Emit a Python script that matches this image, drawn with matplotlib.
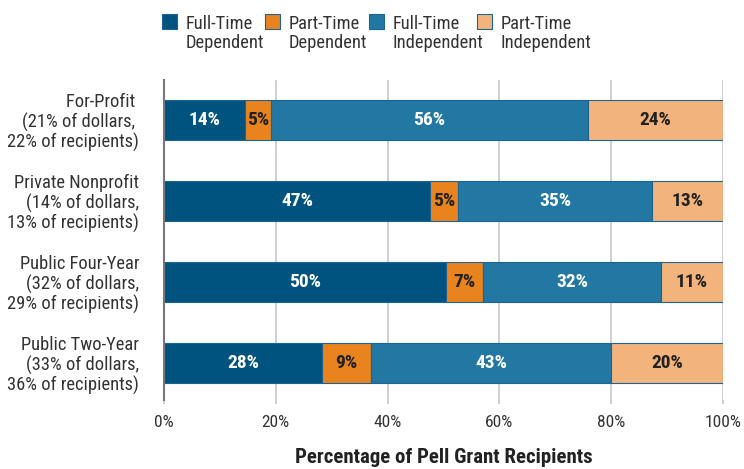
import matplotlib
matplotlib.use('Agg')
import matplotlib.pyplot as plt
from matplotlib import font_manager as fm
from matplotlib.patches import Rectangle
import numpy as np

# pick a condensed face if one is available
fonts = [(f.name, f.stretch) for f in fm.fontManager.ttflist]
names = {n for n, s in fonts}
stretch = 'normal'
if 'Roboto Condensed' in names:
    fam = 'Roboto Condensed'
elif 'Liberation Sans Narrow' in names:
    fam = 'Liberation Sans Narrow'
elif ('DejaVu Sans', 'condensed') in fonts:
    fam, stretch = 'DejaVu Sans', 'condensed'
else:
    fam = 'DejaVu Sans'
plt.rcParams['font.family'] = [fam, 'DejaVu Sans']
plt.rcParams['font.stretch'] = stretch

categories = ['For-Profit \n(21% of dollars, \n22% of recipients)',
              'Private Nonprofit\n(14% of dollars,\n13% of recipients)',
              'Public Four-Year\n(32% of dollars,\n29% of recipients)',
              'Public Two-Year\n(33% of dollars,\n36% of recipients)']
series = ['Full-Time\nDependent', 'Part-Time\nDependent', 'Full-Time\nIndependent', 'Part-Time\nIndependent']

ft_dep = [14.5, 47.6, 50.4, 28.3]
pt_dep = [4.6, 5.0, 6.7, 8.7]
ft_ind = [56.7, 34.7, 31.8, 43.0]
pt_ind = [24.2, 12.7, 11.1, 20.0]
ft_dep_lbl = [14, 47, 50, 28]
pt_dep_lbl = [5, 5, 7, 9]
ft_ind_lbl = [56, 35, 32, 43]
pt_ind_lbl = [24, 13, 11, 20]

colors = ['#00537f', '#e8831e', '#2277a3', '#f2b47c']
text_colors = ['white', '#222222', 'white', '#222222']

fig = plt.figure(figsize=(7.44, 4.69), dpi=100)
ax = fig.add_axes([164/744, 1-400/469, (723-164)/744, 320/469])

y = np.arange(len(categories))
left = np.zeros(len(categories))
for vals, lbls, c, tc in zip([ft_dep, pt_dep, ft_ind, pt_ind],
                             [ft_dep_lbl, pt_dep_lbl, ft_ind_lbl, pt_ind_lbl],
                             colors, text_colors):
    bars = ax.barh(y, vals, left=left, height=0.49, color=c,
                   edgecolor='#1d6493', linewidth=0.8, zorder=3)
    ax.bar_label(bars, labels=[f'{v}%' for v in lbls], label_type='center',
                 color=tc, fontsize=14, fontweight='bold')
    left += np.array(vals)

ax.set_xlim(0, 100)
ax.set_ylim(3.46, -0.49)
ax.set_yticks(y)
ax.set_yticklabels(categories, fontsize=13.3, color='#333333', ha='right',
                   linespacing=1.1)
ax.tick_params(axis='y', length=0, pad=18)
ax.set_xticks(np.arange(0, 101, 20))
ax.set_xticklabels([f'{v}%' for v in range(0, 101, 20)], fontsize=12.5, color='#333333')
ax.tick_params(axis='x', length=3, color='#c8c8c8', width=1.2, pad=8)
ax.grid(axis='x', color='#c8c8c8', linewidth=1.2, zorder=0)
for s in ['top', 'right', 'bottom']:
    ax.spines[s].set_visible(False)
ax.spines['left'].set_color('#777777')
ax.spines['left'].set_linewidth(1.5)
ax.spines['left'].set_zorder(4)

ax.set_xlabel('Percentage of Pell Grant Recipients', fontsize=15,
              fontweight='bold', color='#222222', labelpad=13)

# legend
leg_x = [162, 265, 369, 477]
for lx, lab, c in zip(leg_x, series, colors):
    fig.add_artist(Rectangle((lx/744, 1-29/469), 15/744, 15/469,
                             transform=fig.transFigure, facecolor=c,
                             edgecolor='#1d6493', linewidth=0.8))
    fig.text((lx+24)/744, 1-15/469, lab, fontsize=13.3, color='#333333',
             va='top', ha='left', linespacing=1.1)

fig.savefig('out.png', dpi=100)
